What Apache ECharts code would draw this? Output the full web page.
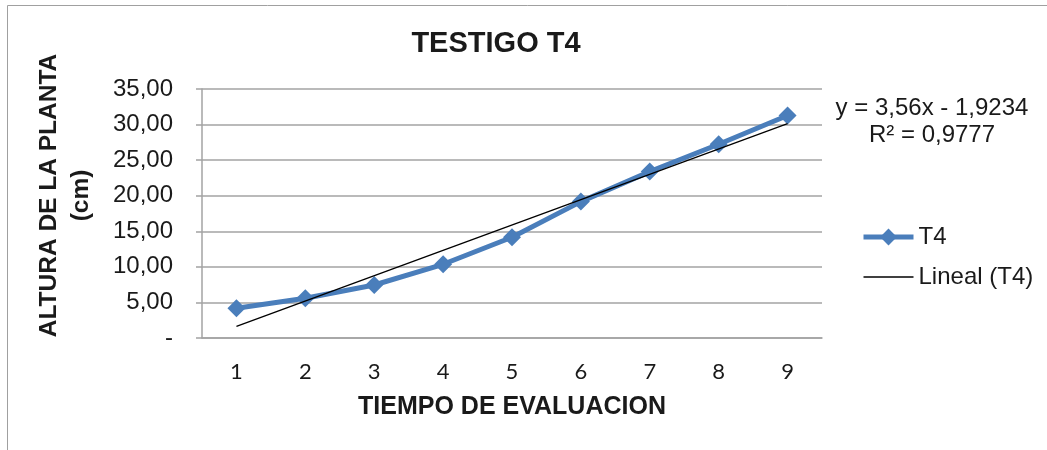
<!DOCTYPE html>
<html>
<head>
<meta charset="utf-8">
<script src="https://cdn.jsdelivr.net/npm/echarts@6/dist/echarts.min.js"></script>
<style>
  html, body { margin: 0; padding: 0; background: #fff; }
  #chart { width: 1047px; height: 450px; }
</style>
</head>
<body>
<div id="chart"></div>
<script>
// tiempos de evaluacion (eje x)
const categories = ['1', '2', '3', '4', '5', '6', '7', '8', '9'];
// altura de la planta, serie T4 (cm)
const t4Values = [4.18, 5.58, 7.45, 10.36, 14.16, 19.17, 23.39, 27.24, 31.27];
// extremos de la linea de tendencia lineal
const trendPoints = [['1', 1.62], ['9', 30.14]];
// texto de la ecuacion
const equationLines = ['y = 3,56x - 1,9234', 'R² = 0,9777'];

const gray = '#a3a3a3';
const blue = '#4a7ebb';
const arial = 'Liberation Sans';

const chart = echarts.init(document.getElementById('chart'));
chart.setOption({
    animation: false,
    backgroundColor: '#fff',
    title: {
        text: 'TESTIGO T4',
        left: 496,
        top: 29,
        textAlign: 'center',
        padding: 0,
        textStyle: {fontFamily: arial, fontSize: 29, fontWeight: 'bold', color: '#1a1a1a'}
    },
    grid: {left: 202, right: 225, top: 89, bottom: 112},
    legend: {
        orient: 'vertical',
        left: 861,
        top: 225,
        itemWidth: 50,
        itemHeight: 21,
        itemGap: 16,
        padding: 0,
        textStyle: {fontFamily: arial, fontSize: 24, color: '#1a1a1a', lineHeight: 24},
        data: [
            {name: 'T4', lineStyle: {width: 5}},
            {name: 'Lineal (T4)', lineStyle: {width: 1.3}, itemStyle: {opacity: 0}}
        ]
    },
    xAxis: {
        type: 'category',
        data: categories,
        boundaryGap: true,
        name: 'TIEMPO DE EVALUACION',
        nameLocation: 'middle',
        nameGap: 57,
        nameTextStyle: {fontFamily: arial, fontSize: 25, fontWeight: 'bold', color: '#1a1a1a'},
        axisLine: {lineStyle: {color: gray, width: 1.5}},
        axisTick: {show: false},
        axisLabel: {fontFamily: 'Lato', fontSize: 22, color: '#1a1a1a', margin: 23}
    },
    yAxis: {
        type: 'value',
        min: 0,
        max: 35,
        interval: 5,
        name: 'ALTURA DE LA PLANTA\n(cm)',
        nameLocation: 'middle',
        nameRotate: 90,
        nameGap: 105,
        nameTextStyle: {
            fontFamily: arial, fontSize: 24.5, fontWeight: 'bold', color: '#1a1a1a',
            lineHeight: 32, padding: [0, 0, 0, 36]
        },
        axisLine: {show: true, lineStyle: {color: gray, width: 1.5}},
        axisTick: {show: true, length: 6, lineStyle: {color: gray, width: 1.5}},
        splitLine: {lineStyle: {color: gray, width: 1.5}},
        axisLabel: {
            fontFamily: arial, fontSize: 24, color: '#1a1a1a', margin: 29,
            formatter: v => v === 0 ? '-' : v.toFixed(2).replace('.', ',')
        }
    },
    series: [{
        name: 'T4',
        type: 'line',
        data: t4Values,
        symbol: 'diamond',
        symbolSize: 18,
        color: blue,
        lineStyle: {width: 5, color: blue},
        itemStyle: {color: blue},
        z: 2
    }, {
        name: 'Lineal (T4)',
        type: 'line',
        data: trendPoints,
        symbol: 'none',
        color: '#000',
        lineStyle: {width: 1.3, color: '#000'},
        z: 3
    }],
    graphic: [{
        type: 'rect',
        shape: {x: 7.5, y: 5.5, width: 1060, height: 470},
        style: {fill: 'none', stroke: '#a0a0a0', lineWidth: 1},
        silent: true
    }, {
        type: 'text',
        x: 932,
        y: 95,
        style: {
            text: equationLines.join('\n'),
            align: 'center',
            verticalAlign: 'top',
            font: '24px "Liberation Sans"',
            lineHeight: 27,
            fill: '#1a1a1a'
        }
    }]
});
</script>
</body>
</html>
